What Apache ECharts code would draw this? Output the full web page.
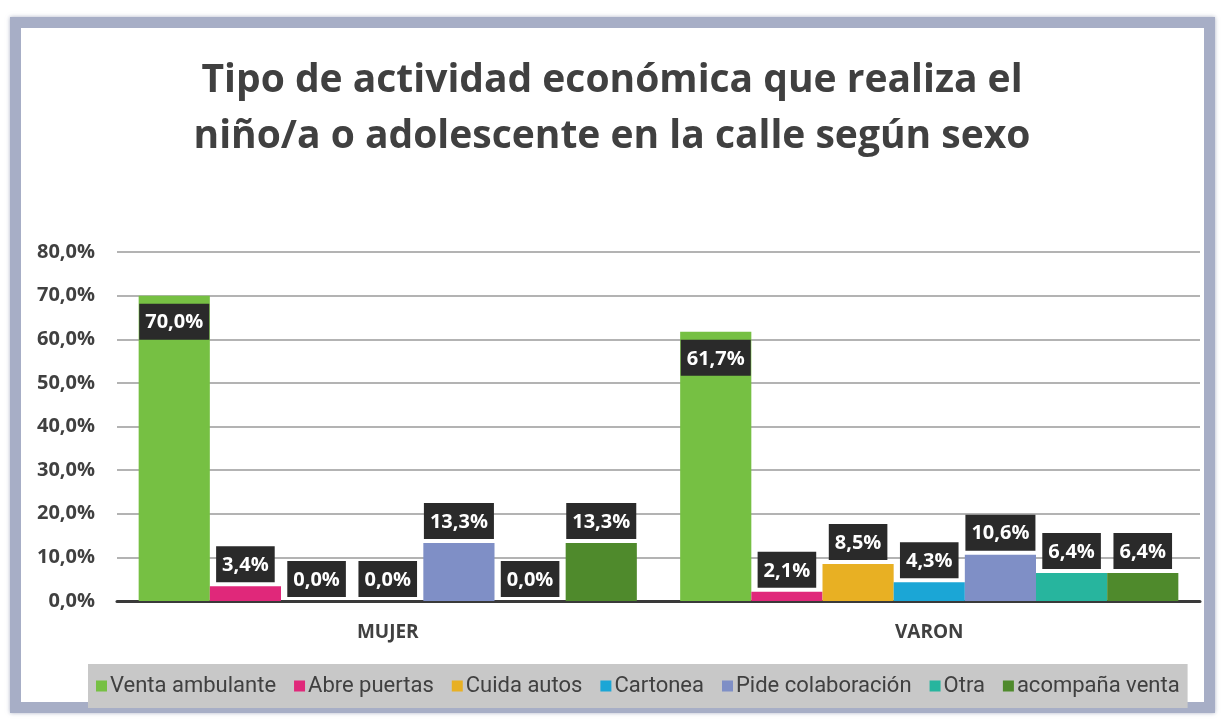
<!DOCTYPE html>
<html>
<head>
<meta charset="utf-8">
<script src="https://cdn.jsdelivr.net/npm/echarts@6/dist/echarts.min.js"></script>
<style>
  html, body { margin: 0; padding: 0; background: #fff; }
  #frame {
    position: absolute; left: 10px; top: 17px; width: 1205px; height: 696px;
    border: 11px solid #a7aec6; box-sizing: border-box;
    box-shadow: 0 0 4px rgba(120, 130, 160, 0.6);
  }
  #chart { position: absolute; left: 0; top: 0; width: 1224px; height: 724px; }
</style>
</head>
<body>
<div id="frame"></div>
<div id="chart"></div>
<script>
// datos del gráfico
const sexos = ['MUJER', 'VARON'];
const actividades = ['Venta ambulante', 'Abre puertas', 'Cuida autos', 'Cartonea',
  'Pide colaboración', 'Otra', 'acompaña venta'];
const colores = ['#76c043', '#e0287a', '#e8b023', '#1ba6d6', '#7f8fc6', '#27b59e', '#4f8a2c'];
// porcentaje por actividad: [MUJER, VARON]
const ventaAmbulante = [70.0, 61.7];
const abrePuertas = [3.4, 2.1];
const cuidaAutos = [0.0, 8.5];
const cartonea = [0.0, 4.3];
const pideColaboracion = [13.3, 10.6];
const otra = [0.0, 6.4];
const acompanaVenta = [13.3, 6.4];
const valores = [ventaAmbulante, abrePuertas, cuidaAutos, cartonea, pideColaboracion, otra, acompanaVenta];

const pct = (v) => v.toFixed(1).replace('.', ',') + '%';
const textColor = '#404040';

const chart = echarts.init(document.getElementById('chart'));

const series = actividades.map((nombre, i) => ({
  name: nombre,
  type: 'bar',
  barGap: 0,
  barCategoryGap: '8%',
  itemStyle: { color: colores[i] },
  data: valores[i].map((v) => ({
    value: v,
    label: v > 50
      ? { position: 'insideTop', distance: 8 }
      : { position: 'top', distance: 4 },
  })),
  label: {
    show: true,
    formatter: (p) => pct(p.value),
    color: '#fff',
    fontFamily: 'Open Sans',
    fontWeight: 'bold',
    fontSize: 20,
    backgroundColor: '#2a2a2a',
    padding: [9, 6, 7, 6],
  },
}));

chart.setOption({
  backgroundColor: 'transparent',
  title: {
    text: 'Tipo de actividad económica que realiza el\nniño/a o adolescente en la calle según sexo',
    left: 'center',
    top: 48,
    textStyle: {
      fontFamily: 'Open Sans',
      fontSize: 39,
      fontWeight: 'bold',
      color: textColor,
      lineHeight: 56,
    },
  },
  legend: {
    bottom: 16,
    left: 88,
    itemWidth: 11,
    itemHeight: 11,
    itemGap: 18,
    icon: 'rect',
    backgroundColor: '#c8c8c8',
    padding: [11, 8, 11, 8],
    borderRadius: 0,
    textStyle: {
      fontFamily: 'Roboto',
      fontSize: 22,
      color: textColor,
      padding: [0, 0, 0, -2],
    },
    data: actividades,
  },
  grid: { left: 117, right: 24, top: 252, bottom: 123 },
  xAxis: {
    type: 'category',
    data: sexos,
    axisLine: { lineStyle: { color: '#3a3a3a', width: 3 } },
    axisTick: { show: false },
    axisLabel: {
      fontFamily: 'Open Sans',
      fontWeight: 'bold',
      fontSize: 19,
      color: textColor,
      margin: 22,
    },
  },
  yAxis: {
    type: 'value',
    min: 0,
    max: 80,
    interval: 10,
    axisLabel: {
      formatter: (v) => pct(v),
      fontFamily: 'Open Sans',
      fontWeight: 'bold',
      fontSize: 20,
      color: textColor,
      margin: 22,
    },
    splitLine: { lineStyle: { color: '#b3b3b3', width: 2 } },
  },
  series: series,
});
</script>
</body>
</html>
